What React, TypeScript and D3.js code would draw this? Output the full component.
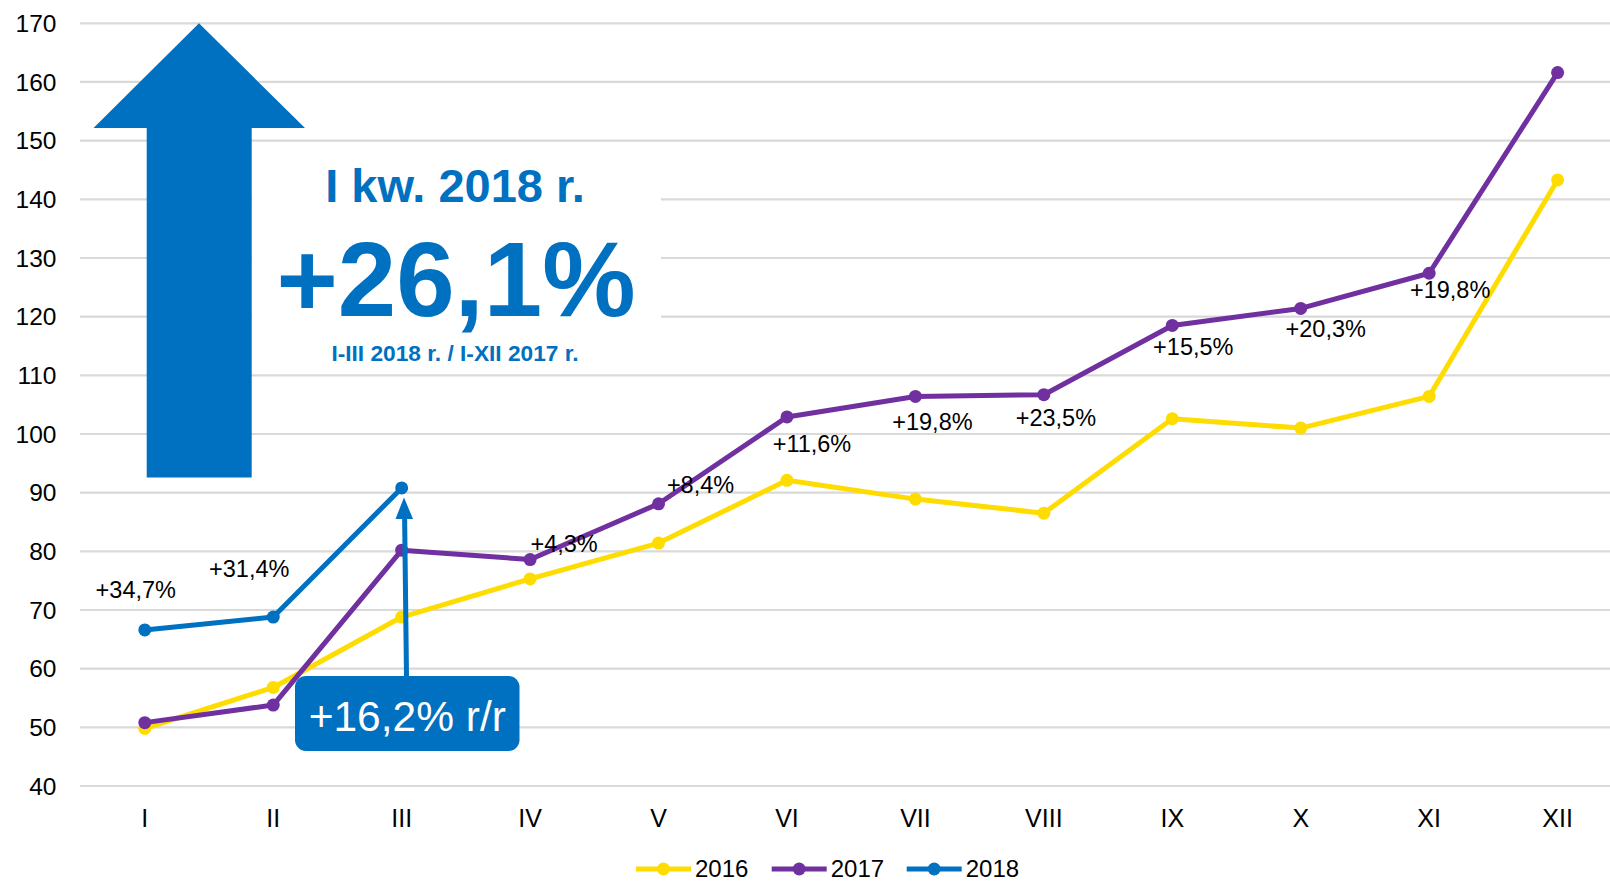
import React from "react";
import * as d3 from "d3";

const months = ["I", "II", "III", "IV", "V", "VI", "VII", "VIII", "IX", "X", "XI", "XII"];
const yTicks = [40, 50, 60, 70, 80, 90, 100, 110, 120, 130, 140, 150, 160, 170];
const v2016 = [49.8, 56.8, 68.8, 75.3, 81.4, 92.1, 88.9, 86.5, 102.6, 101.0, 106.4, 143.3];
const v2017 = [50.8, 53.8, 80.2, 78.6, 88.1, 102.9, 106.4, 106.7, 118.5, 121.4, 127.4, 161.6];
const v2018 = [66.6, 68.8, 90.8];
const seriesNames = ["2016", "2017", "2018"];
const seriesColors = ["#FFDC00", "#7030A0", "#0070C0"];
const labelTexts = ["+34,7%", "+31,4%", null, "+4,3%", "+8,4%", "+11,6%", "+19,8%", "+23,5%", "+15,5%", "+20,3%", "+19,8%", null];
const headline = "I kw. 2018 r.";
const bigValue = "+26,1%";
const subline = "I-III 2018 r. / I-XII 2017 r.";
const boxText = "+16,2% r/r";

// label anchors: first two relative to 2018 point, others to 2017 point (pixel offsets of label centre)
const labelOffsets: ([number, number] | null)[] = [
  [-9, -40], [-24, -48], null, [34, -16], [42, -19], [25, 27], [17, 26], [12, 23], [21, 22], [25, 21], [21, 17], null,
];

const FONT = "'Liberation Sans', Arial, sans-serif";

export default function App() {
  const W = 1610, H = 882;
  const x = d3.scalePoint<string>().domain(months).range([144.8, 1557.6]);
  const y = d3.scaleLinear().domain([40, 170]).range([786, 23.3]);
  const line = d3.line<number>().x((_, i) => x(months[i])!).y((d) => y(d));
  const series = [v2016, v2017, v2018];

  const bigArrowTipX = 199;
  const arrow = d3.path();
  arrow.moveTo(bigArrowTipX, y(170));
  arrow.lineTo(305, 128);
  arrow.lineTo(251.7, 128);
  arrow.lineTo(251.7, 477.5);
  arrow.lineTo(146.7, 477.5);
  arrow.lineTo(146.7, 128);
  arrow.lineTo(93.5, 128);
  arrow.closePath();

  const boxX = 295, boxY = 676, boxW = 224.5, boxH = 75;

  return (
    <svg width={W} height={H} style={{ position: "absolute", left: 0, top: 0, background: "#fff" }} fontFamily={FONT}>
      <rect x={0} y={0} width={W} height={H} fill="#fff" />
      {yTicks.map((t) => (
        <g key={t}>
          <line x1={80} x2={1610} y1={y(t)} y2={y(t)} stroke="#D9D9D9" strokeWidth={2.2} />
          <text x={56.5} y={y(t) + 8.8} textAnchor="end" fontSize={24.5} fill="#000">{t}</text>
        </g>
      ))}
      {months.map((m) => (
        <text key={m} x={x(m)} y={827} textAnchor="middle" fontSize={25} fill="#000">{m}</text>
      ))}
      {/* white box behind the headline */}
      <rect x={252} y={146} width={409} height={226} fill="#fff" />
      <path d={arrow.toString()} fill="#0070C0" />
      <text x={455} y={202} textAnchor="middle" fontSize={47} fontWeight="bold" fill="#0070C0">{headline}</text>
      <text x={456} y={316} textAnchor="middle" fontSize={105} fontWeight="bold" fill="#0070C0">{bigValue}</text>
      <text x={455} y={361} textAnchor="middle" fontSize={22.7} fontWeight="bold" fill="#0070C0">{subline}</text>

      {series.map((s, k) => (
        <g key={k}>
          <path d={line(s)!} fill="none" stroke={seriesColors[k]} strokeWidth={5} strokeLinejoin="round" />
          {s.map((v, i) => (
            <circle key={i} cx={x(months[i])} cy={y(v)} r={6.5} fill={seriesColors[k]} />
          ))}
        </g>
      ))}

      {labelTexts.map((t, i) => {
        const off = labelOffsets[i];
        if (!t || !off) return null;
        const base = i < 2 ? v2018[i] : v2017[i];
        return (
          <text key={i} x={x(months[i])! + off[0]} y={y(base) + off[1] + 8} textAnchor="middle" fontSize={23.5} fill="#000">{t}</text>
        );
      })}

      {/* small arrow towards III */}
      <line x1={406.5} y1={boxY} x2={404.6} y2={516} stroke="#0070C0" strokeWidth={5} />
      <path d={`M${404} ${y(v2018[2]) + 9.5} L${413} ${519} L${395.5} ${519} Z`} fill="#0070C0" />
      <rect x={boxX} y={boxY} width={boxW} height={boxH} rx={11} fill="#0070C0" />
      <text x={boxX + boxW / 2} y={731} textAnchor="middle" fontSize={42.5} fill="#fff">{boxText}</text>

      {/* legend */}
      {seriesNames.map((n, k) => {
        const lx = [636, 771.7, 906.7][k];
        return (
          <g key={n}>
            <line x1={lx} x2={lx + 55} y1={869} y2={869} stroke={seriesColors[k]} strokeWidth={5} />
            <circle cx={lx + 27.5} cy={869} r={6.5} fill={seriesColors[k]} />
            <text x={lx + 59} y={876.5} fontSize={24} fill="#000">{n}</text>
          </g>
        );
      })}
    </svg>
  );
}
